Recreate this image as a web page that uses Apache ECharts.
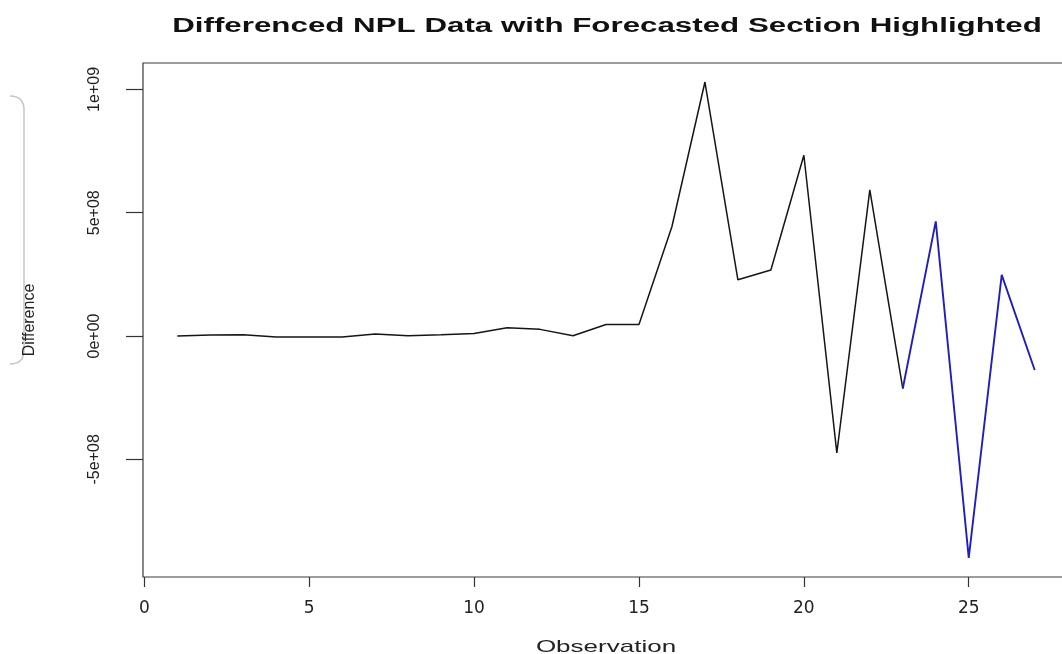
<!DOCTYPE html>
<html>
<head>
<meta charset="utf-8">
<script src="https://cdn.jsdelivr.net/npm/echarts@6/dist/echarts.min.js"></script>
<style>
  html, body { margin: 0; padding: 0; background: #ffffff; }
  #chart { width: 1062px; height: 654px; }
</style>
</head>
<body>
<div id="chart"></div>
<script>
// ---- data ----
const observations = [1, 2, 3, 4, 5, 6, 7, 8, 9, 10, 11, 12, 13, 14, 15, 16, 17, 18, 19, 20, 21, 22, 23, 24, 25, 26, 27];
const differences = [0, 4e6, 5e6, -4e6, -4e6, -4e6, 8e6, 1e6, 5e6, 10e6, 34e6, 27e6, 1e6, 47e6, 47e6,
  444e6, 1030e6, 228e6, 268e6, 733e6, -474e6, 593e6, -213e6, 465e6, -900e6, 248e6, -138e6];
const forecastStart = 23;
const xTickValues = [0, 5, 10, 15, 20, 25];
const yTickValues = [-5e8, 0, 5e8, 1e9];
const yTickLabels = ['-5e+08', '0e+00', '5e+08', '1e+09'];
const titleText = 'Differenced NPL Data with Forecasted Section Highlighted';
const xLabel = 'Observation';
const yLabel = 'Difference';

// R-style 4% axis padding
const xMinD = Math.min(...observations), xMaxD = Math.max(...observations);
const yMinD = Math.min(...differences), yMaxD = Math.max(...differences);
const xPad = (xMaxD - xMinD) * 0.04, yPad = (yMaxD - yMinD) * 0.04;

const history = [], forecast = [];
observations.forEach((o, i) => {
  if (o <= forecastStart) history.push([o, differences[i]]);
  if (o >= forecastStart) forecast.push([o, differences[i]]);
});

const chart = echarts.init(document.getElementById('chart'), null, { renderer: 'canvas' });
chart.setOption({
  backgroundColor: '#ffffff',
  animation: false,
  grid: {
    left: 143, top: 63, width: 926, height: 514,
    show: true, borderColor: '#3a3a3a', borderWidth: 1.2, backgroundColor: 'transparent',
    outerBoundsMode: 'none', containLabel: false
  },
  xAxis: {
    type: 'value',
    min: xMinD - xPad, max: xMaxD + xPad,
    splitLine: { show: false },
    axisLine: { show: false, onZero: false },
    axisTick: { show: true, customValues: xTickValues, length: 10, lineStyle: { color: '#333', width: 1.2 } },
    axisLabel: {
      customValues: xTickValues, margin: 23, color: '#222',
      fontFamily: "'DejaVu Sans', sans-serif", fontSize: 17
    }
  },
  yAxis: {
    type: 'value',
    min: yMinD - yPad, max: yMaxD + yPad,
    splitLine: { show: false },
    axisLine: { show: false, onZero: false },
    axisTick: { show: true, customValues: yTickValues, length: 17, lineStyle: { color: '#333', width: 1.2 } },
    axisLabel: {
      customValues: yTickValues, rotate: 90, margin: 40, color: '#222',
      fontFamily: "'Liberation Sans', Arial, sans-serif", fontSize: 16,
      formatter: v => { const k = yTickValues.findIndex(t => Math.abs(t - v) < 1); return k >= 0 ? yTickLabels[k] : ''; }
    },
    name: yLabel, nameLocation: 'middle', nameRotate: 90, nameGap: 105,
    nameTextStyle: { color: '#222', fontFamily: "'Liberation Sans', Arial, sans-serif", fontSize: 16 }
  },
  series: [
    {
      type: 'line', data: history, showSymbol: false, symbol: 'none',
      lineStyle: { color: '#151515', width: 1.5 }, silent: true
    },
    {
      type: 'line', data: forecast, showSymbol: false, symbol: 'none',
      lineStyle: { color: '#1f1fc0', width: 1.9 }, silent: true
    }
  ],
  graphic: [
    {
      type: 'text', x: 607, y: 26, scaleX: 1.565, scaleY: 1,
      style: { text: titleText, x: 0, y: 0, align: 'center', verticalAlign: 'middle',
        font: "bold 20px 'Liberation Sans', Arial, sans-serif", fill: '#111' }
    },
    {
      type: 'text', x: 606, y: 647, scaleX: 1.53, scaleY: 1,
      style: { text: xLabel, x: 0, y: 0, align: 'center', verticalAlign: 'middle',
        font: "17px 'Liberation Sans', Arial, sans-serif", fill: '#222' }
    },
    {
      type: 'bezierCurve', silent: true,
      shape: { x1: 10, y1: 96, cpx1: 24, cpy1: 96, x2: 24, y2: 110 },
      style: { stroke: '#c6c6c6', lineWidth: 1.5, fill: null }
    },
    {
      type: 'line', silent: true,
      shape: { x1: 24, y1: 110, x2: 24, y2: 350 },
      style: { stroke: '#c6c6c6', lineWidth: 1.5 }
    },
    {
      type: 'bezierCurve', silent: true,
      shape: { x1: 24, y1: 350, cpx1: 24, cpy1: 364, x2: 10, y2: 364 },
      style: { stroke: '#c6c6c6', lineWidth: 1.5, fill: null }
    }
  ]
});
</script>
</body>
</html>
